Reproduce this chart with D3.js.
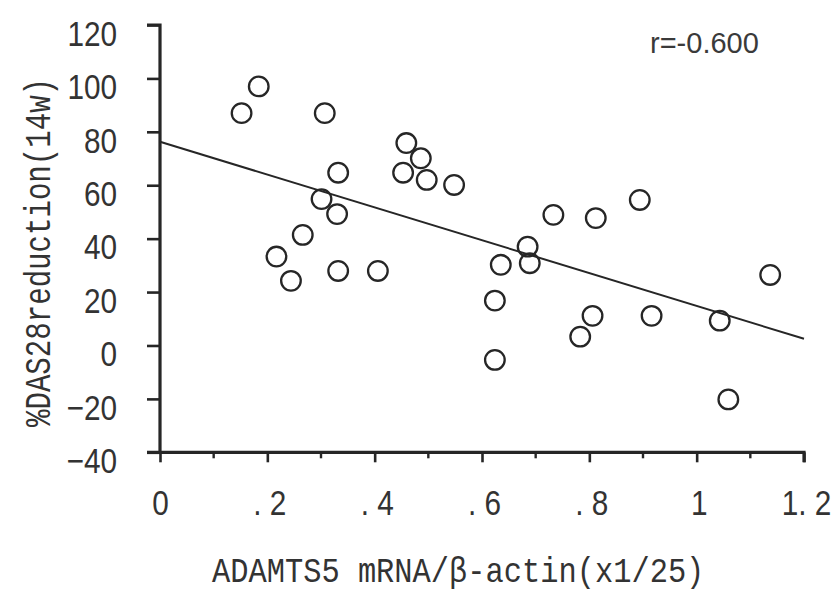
<!DOCTYPE html>
<html><head><meta charset="utf-8">
<script src="https://cdn.jsdelivr.net/npm/d3@7"></script>
<style>
html,body{margin:0;padding:0;background:#fff;}
svg{display:block;}
</style></head>
<body>
<svg id="chart" width="836" height="594"></svg>
<script>
// ---- data ----
const xValues = [0.152,0.184,0.307,0.332,0.301,0.330,0.266,0.217,0.244,0.332,0.406,0.459,0.486,0.453,0.497,0.548,0.733,0.812,0.894,0.685,0.689,0.635,0.624,0.624,0.783,0.806,0.916,1.043,1.059,1.137];
const yValues = [87.0,97.0,87.0,64.7,54.8,49.2,41.4,33.3,24.2,27.9,27.9,75.8,70.1,64.7,62.0,60.1,48.9,47.7,54.5,37.0,30.8,30.2,16.8,-5.4,3.3,11.1,11.1,9.3,-20.2,26.4];
const fitX = [0, 1.2];
const fitY = [76.3, 2.5];
const xTicks = [0,0.2,0.4,0.6,0.8,1.0,1.2];
const xTickLabels = ["0",". 2",". 4",". 6",". 8","1","1. 2"];
const xMinorTicks = [0.1,0.3,0.5,0.7,0.9,1.1];
const yTicks = [-40,-20,0,20,40,60,80,100,120];
const xTitle = "ADAMTS5 mRNA/\u03B2-actin(x1/25)";
const yTitle = "%DAS28reduction(14w)";
const rLabel = "r=-0.600";

// ---- layout ----
const svg = d3.select("#chart");
const x = d3.scaleLinear().domain([0,1.2]).range([160,804]);
const y = d3.scaleLinear().domain([-40,120]).range([452.3,25]);
const ink = "#262626";
const tickFont = "'Liberation Sans',Arial,sans-serif";
const squeeze = 0.85;

// y axis
const yAxis = d3.axisLeft(y).tickValues(yTicks).tickSize(13)
  .tickFormat(d=>d3.format("d")(d).replace("-","\u2212"));
const gy = svg.append("g").attr("transform",`translate(${x(0)},0)`).call(yAxis);
gy.select(".domain").attr("stroke",ink).attr("stroke-width",3.2).attr("d",`M-13,${y(120)}H0V${y(-40)}`);
gy.selectAll(".tick line").attr("stroke",ink).attr("stroke-width",2.6);
gy.selectAll(".tick text").attr("fill","#333").style("font-family",tickFont).style("font-size","35px")
  .attr("x",-43/squeeze).attr("dy","0.58em").attr("transform",`scale(${squeeze},1)`);

// x axis
const xAxis = d3.axisBottom(x).tickValues(xTicks).tickSize(10).tickFormat((d,i)=>xTickLabels[i]).tickPadding(28);
const gx = svg.append("g").attr("transform",`translate(0,${y(-40)})`).call(xAxis);
gx.select(".domain").attr("stroke",ink).attr("stroke-width",3.2).attr("d",`M${x(0)-13},0H${x(1.2)}V10`);
gx.selectAll(".tick line").attr("stroke",ink).attr("stroke-width",2.6);
gx.selectAll(".tick text").attr("fill","#333").style("font-family",tickFont).style("font-size","35px")
  .attr("dy","0.71em").attr("x",(d,i)=>i===0?0:2/squeeze).attr("transform",`scale(${squeeze},1)`);
gx.selectAll(".minor").data(xMinorTicks).enter().append("line")
  .attr("x1",d=>x(d)).attr("x2",d=>x(d)).attr("y1",0).attr("y2",6)
  .attr("stroke",ink).attr("stroke-width",2.4);

// regression line
svg.append("line")
  .attr("x1",x(fitX[0])).attr("y1",y(fitY[0]))
  .attr("x2",x(fitX[1])).attr("y2",y(fitY[1]))
  .attr("stroke",ink).attr("stroke-width",2);

// points
svg.append("g").selectAll("circle").data(xValues).enter().append("circle")
  .attr("cx",d=>x(d)).attr("cy",(d,i)=>y(yValues[i])).attr("r",9.8)
  .attr("fill","none").attr("stroke",ink).attr("stroke-width",2.3);

// r label
svg.append("text").attr("x",650).attr("y",53).text(rLabel)
  .attr("fill","#3a3a3a").style("font-family","'Liberation Sans',Arial,sans-serif").style("font-size","29px");

// axis titles
const monoFont = "'Liberation Mono','DejaVu Sans Mono',monospace";
svg.append("text").attr("transform","translate(212,582) scale(1,1.18)").text(xTitle)
  .attr("fill","#333").style("font-family",monoFont).style("font-size","30.4px");

svg.append("text").attr("transform","translate(50,427) rotate(-90) scale(1,1.25)").text(yTitle)
  .attr("fill","#333").style("font-family",monoFont).style("font-size","29.1px");
</script>
</body></html>
